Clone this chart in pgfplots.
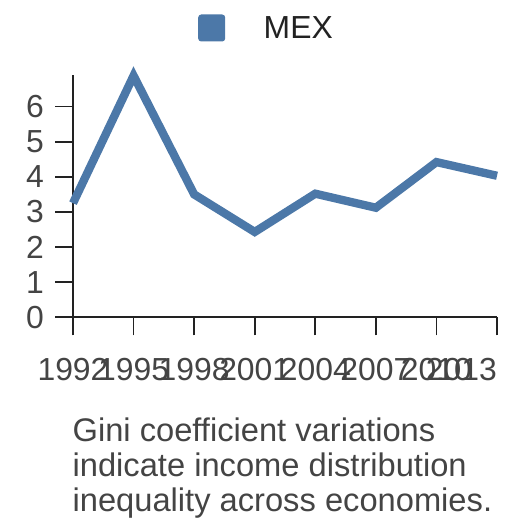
\documentclass[border=0pt]{standalone}
\usepackage{pgfplots}
\pgfplotsset{compat=1.18}
\usepackage{fontspec}
\setmainfont{Liberation Sans}
\definecolor{lineblue}{HTML}{4C78A8}
\definecolor{ticktext}{HTML}{444444}
\definecolor{axiscol}{HTML}{222222}
\begin{document}
\begin{tikzpicture}[x=1bp,y=1bp]
\path[use as bounding box] (0,0) rectangle (528,528);
\begin{axis}[
  at={(73bp,210.7bp)}, anchor=origin,
  scale only axis, width=424bp, height=242.3bp,
  xmin=1992, xmax=2013, ymin=0, ymax=6.9,
  axis x line*=bottom, axis y line*=left,
  axis line style={axiscol, line width=1.7bp, -},
  every tick/.style={axiscol, line width=1.7bp},
  tick align=outside, major tick length=18bp,
  xtick={1992,1995,...,2010},
  extra x ticks={2013},
  extra x tick style={xticklabel style={anchor=north east}},
  ytick={0,1,...,6},
  /pgf/number format/1000 sep={},
  /pgf/number format/assume math mode=true,
  ticklabel style={font=\fontsize{32}{32}\selectfont, text=ticktext, inner sep=0pt},
  xticklabel style={anchor=north, yshift=-22.7bp},
  yticklabel style={anchor=east, xshift=-11bp},
  legend style={draw=none, fill=none, inner sep=0pt, column sep=38.5bp,
    nodes={inner sep=0pt, font=\fontsize{32}{32}\selectfont, text=axiscol},
    at={(axis description cs:0.2948,1.194)}, anchor=west},
  legend image code/.code={\path[fill=lineblue, draw=none, rounded corners=3bp] (0bp,-13.5bp) rectangle (27bp,13.5bp);},
  clip=false,
]
\addplot[lineblue, line width=8.3bp, line join=miter, line cap=butt] coordinates {
  (1992,3.25) (1995,6.88) (1998,3.5) (2001,2.43) (2004,3.52) (2007,3.12) (2010,4.42) (2013,4.03)
};
\addlegendentry{MEX}
\end{axis}
\node[anchor=north west, align=left, inner sep=0pt, text=ticktext,
  font=\fontsize{32.8}{35}\selectfont] at (72.4,528-418) {Gini coefficient variations\\indicate income distribution\\inequality across economies.};
\end{tikzpicture}
\end{document}
